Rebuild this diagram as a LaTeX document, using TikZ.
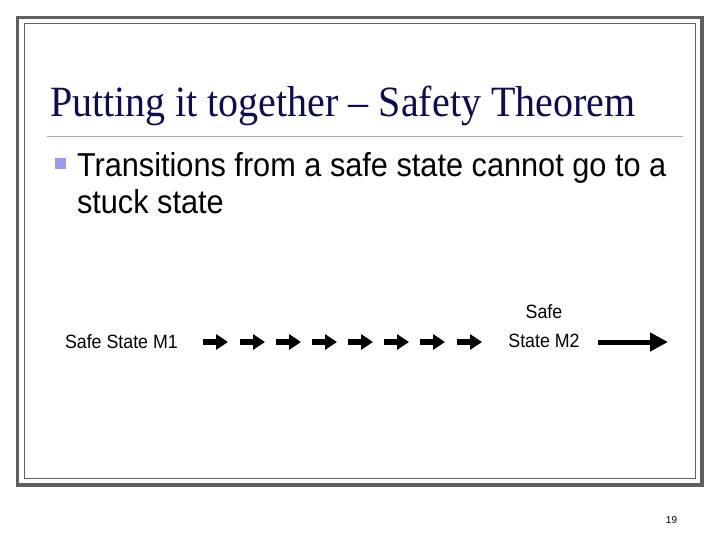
\documentclass[tikz,border=0pt]{standalone}
\usepackage{fontspec}
\setmainfont{Liberation Serif}
\newfontfamily\arialf{Liberation Sans}
\usetikzlibrary{arrows.meta}
\definecolor{framegray}{HTML}{5F5F5F}
\definecolor{titlenavy}{HTML}{0C0C52}
\definecolor{rulegray}{HTML}{A8A8B8}
\definecolor{bulletblue}{HTML}{9999EE}
\tikzset{
  txt/.style={inner sep=0pt, outer sep=0pt},
  blockarrow/.style={line width=6pt, -{Triangle[length=12pt,width=15pt]}},
  bigarrow/.style={line width=5pt, -{Triangle[length=18pt,width=18pt]}},
}
\newcommand{\vs}[1]{\scalebox{1}[1.08]{#1}}
\begin{document}
\begin{tikzpicture}[x=1pt,y=-1pt]
\useasboundingbox (0,0) rectangle (720,540);
\fill[white] (0,0) rectangle (720,540);
% frame
\draw[framegray, line width=3.5pt] (17.5,17.3) rectangle (702,485);
\draw[framegray, line width=1pt] (24,24) rectangle (695.5,478.5);
% title
\node[txt, anchor=base west, text=titlenavy] (title) at (50,117)
  {\fontsize{40}{48}\selectfont\vs{Putting it together -- Safety Theorem}};
\draw[rulegray, line width=1pt] (47,137) -- (683,137);
% bullet
\fill[bulletblue] (55,158) rectangle (66,169);
\node[txt, anchor=base west] (l1) at (77,177)
  {\arialf\fontsize{30.7}{37}\selectfont\vs{Transitions from a safe state cannot go to a}};
\node[txt, anchor=base west] (l2) at (77,214)
  {\arialf\fontsize{30.7}{37}\selectfont\vs{stuck state}};
% states
\node[txt, anchor=base west] (m1) at (65,348)
  {\arialf\fontsize{17.8}{21}\selectfont\vs{Safe State M1}};
\node[txt, anchor=base] (m2a) at (544,318)
  {\arialf\fontsize{17.8}{21}\selectfont\vs{Safe}};
\node[txt, anchor=base] (m2b) at (544,347)
  {\arialf\fontsize{17.8}{21}\selectfont\vs{State M2}};
% small arrows
\foreach \i/\x in {1/203,2/240,3/276,4/312,5/348,6/384,7/420,8/457}{
  \coordinate (s\i) at (\x,342);
  \coordinate (e\i) at (\x+25,342);
  \draw[blockarrow] (s\i) -- (e\i);
}
% big arrow
\coordinate (bs) at (598,342);
\coordinate (be) at (668,342);
\draw[bigarrow] (bs) -- (be);
% page number
\node[txt, anchor=base] (pg) at (671.5,523)
  {\arialf\fontsize{10}{12}\selectfont 19};
\end{tikzpicture}
\end{document}
